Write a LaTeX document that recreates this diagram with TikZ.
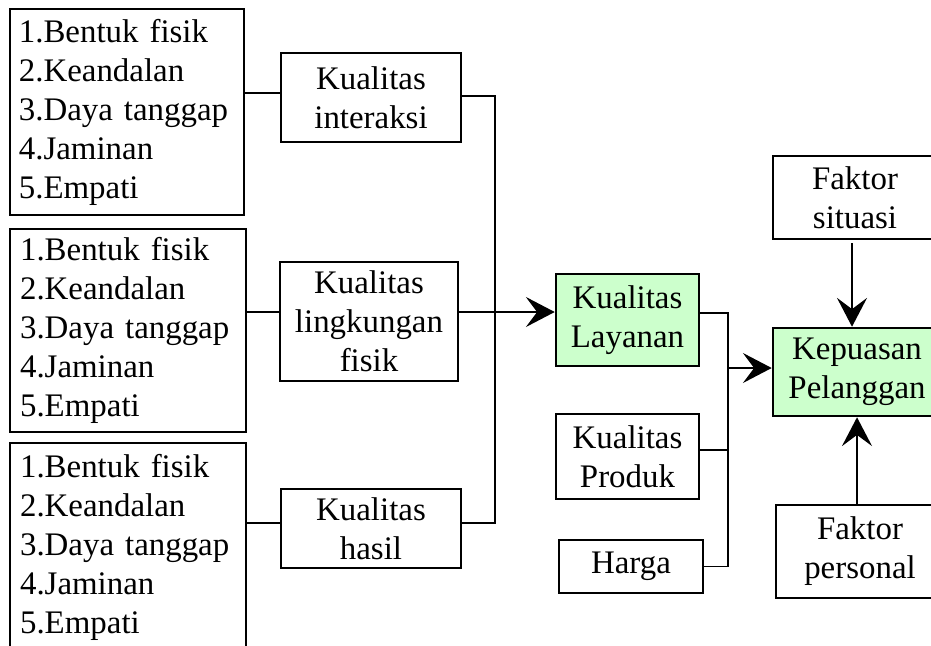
\documentclass[tikz,border=0pt]{standalone}
\usepackage{fontspec}
\setmainfont{Liberation Serif}
\usepackage{tikz}
\usetikzlibrary{arrows.meta}
\definecolor{hijau}{HTML}{CCFFCC}
\tikzset{
  daftar/.style={draw, line width=1.5pt, anchor=north west, align=left, text width=5.4cm, inner xsep=0.22cm, inner ysep=0pt},
  kotak/.style 2 args={draw, line width=1.8pt, align=center, inner sep=0pt, minimum width=#1cm, minimum height=#2cm},
  garis/.style={line width=1.4pt},
  panah/.style={line width=1.4pt, -{Stealth[length=0.72cm, width=0.75cm, inset=0.28cm]}}
}
\newcommand{\isidaftar}{1.Bentuk fisik\\2.Keandalan\\3.Daya tanggap\\4.Jaminan\\5.Empati}

\begin{document}
\begin{tikzpicture}[x=0.025cm, y=-0.025cm, font=\fontsize{23.4}{27.7}\selectfont]

\clip (0,0) rectangle (931,645);
\fill[white] (0,0) rectangle (931,645);

% daftar dimensi
\node[daftar, minimum width=5.825cm, minimum height=5.15cm] (daftarA) at (9,8) {\isidaftar};
\node[daftar, minimum width=5.9cm, minimum height=5.075cm] (daftarB) at (9,228) {\isidaftar};
\node[daftar, minimum width=5.9cm, minimum height=5.2cm] (daftarC) at (9,442) {\isidaftar};

% kualitas
\node[kotak={4.5}{2.225}] (interaksi) at (371,97.5) {Kualitas\\interaksi};
\node[kotak={4.45}{2.975}] (lingkungan) at (369,321.5) {Kualitas\\lingkungan\\fisik};
\node[kotak={4.5}{1.975}] (hasil) at (371,528.5) {Kualitas\\hasil};

\node[kotak={3.575}{2.3}, fill=hijau] (layanan) at (627.5,320) {Kualitas\\Layanan};
\node[kotak={3.575}{2.125}] (produk) at (627.5,456.5) {Kualitas\\Produk};
\node[kotak={3.6}{1.325}] (harga) at (631,566.5) {Harga};

\node[kotak={4.2}{2.2}, fill=hijau] (kepuasan) at (857,372) {Kepuasan\\Pelanggan};
\node[kotak={4.1}{2.075}] (situasi) at (855,197.5) {Faktor\\situasi};
\node[kotak={4.2}{2.325}] (personal) at (860,551.5) {Faktor\\personal};

% titik cabang
\coordinate (busA) at (495,312);
\coordinate (busB) at (728,368);

% garis ke kualitas
\draw[garis] ([yshift=0.11cm]interaksi.west) -- ([yshift=0.11cm]interaksi.west -| daftarA.east);
\draw[garis] (lingkungan.west |- busA) -- (daftarB.east |- busA);
\draw[garis] ([yshift=0.14cm]hasil.west) -- ([yshift=0.14cm]hasil.west -| daftarC.east);

% ke kualitas layanan
\draw[garis] ([yshift=0.04cm]interaksi.east) -| ([yshift=0.14cm]hasil.east -| busA) -- ([yshift=0.14cm]hasil.east);
\draw[panah] (lingkungan.east |- busA) -- (layanan.west |- busA);

% ke kepuasan pelanggan
\draw[garis] ([yshift=0.18cm]layanan.east) -| (harga.east -| busB) -- (harga.east);
\draw[garis] ([yshift=0.16cm]produk.east) -- ([yshift=0.16cm]produk.east -| busB);
\draw[panah] (busB) -- (kepuasan.west |- busB);

\draw[panah] ([xshift=-0.075cm, yshift=-0.08cm]situasi.south) -- ([xshift=-0.075cm]situasi.south |- kepuasan.north);
\draw[panah] (personal.north -| kepuasan.south) -- (kepuasan.south);

\end{tikzpicture}
\end{document}
